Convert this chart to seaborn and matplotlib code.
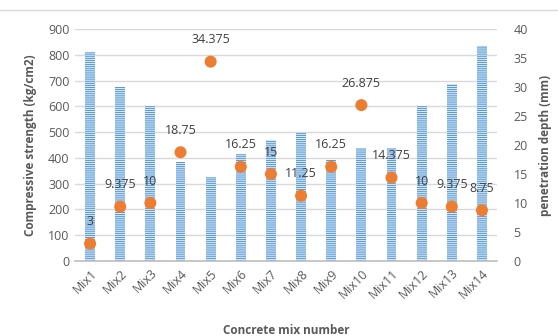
import matplotlib
matplotlib.use("Agg")
import matplotlib.pyplot as plt
import seaborn as sns
import pandas as pd

# Mix data: compressive strength (bars, left axis) and penetration depth (dots, right axis)
mixes = ["Mix1", "Mix2", "Mix3", "Mix4", "Mix5", "Mix6", "Mix7",
         "Mix8", "Mix9", "Mix10", "Mix11", "Mix12", "Mix13", "Mix14"]
strength = [810, 675, 600, 385, 325, 415, 470, 495, 390, 440, 440, 600, 685, 835]
penetration = [3, 9.375, 10, 18.75, 34.375, 16.25, 15, 11.25, 16.25, 26.875,
               14.375, 10, 9.375, 8.75]
left_ticks = list(range(0, 1000, 100))
right_ticks = list(range(0, 45, 5))

df = pd.DataFrame({"mix": mixes, "strength": strength, "penetration": penetration})

sns.set_theme(style="white")
plt.rcParams["font.family"] = ["Open Sans", "DejaVu Sans"]
plt.rcParams["hatch.linewidth"] = 0.7

text_gray = "#595959"
blue = "#5B9BD5"
orange = "#ED7D31"

fig = plt.figure(figsize=(5.58, 3.36), dpi=100)
ax = fig.add_axes([75 / 558, 1 - 261 / 336, (497 - 75) / 558, (261 - 29) / 336])

sns.barplot(data=df, x="mix", y="strength", ax=ax, color=blue, saturation=1,
            width=0.33, hatch="--------", edgecolor="#E3EEF9", linewidth=0,
            zorder=2)
ax.set_ylim(0, 900)
ax.set_yticks(left_ticks)
ax.set_xlim(-0.5, len(mixes) - 0.5)
ax.grid(axis="y", color="#D9D9D9", linewidth=1, zorder=0)
ax.set_axisbelow(True)
for s in ["top", "right", "left"]:
    ax.spines[s].set_visible(False)
ax.spines["bottom"].set_color("#BFBFBF")
ax.spines["bottom"].set_linewidth(1.2)
ax.tick_params(axis="both", colors=text_gray, labelsize=9, length=0, pad=4)
plt.setp(ax.get_xticklabels(), rotation=45, ha="right", rotation_mode="anchor")
ax.set_xlabel("Concrete mix number", fontsize=8.5, fontweight="bold",
              color=text_gray, labelpad=17)
ax.set_ylabel("Compressive strength (kg/cm2)", fontsize=8.5, fontweight="bold",
              color=text_gray, labelpad=8)

ax2 = ax.twinx()
sns.scatterplot(data=df, x="mix", y="penetration", ax=ax2, color=orange,
                s=75, edgecolor="none", zorder=3)
ax2.set_ylim(0, 40)
ax2.set_yticks(right_ticks)
for s in ["top", "right", "left", "bottom"]:
    ax2.spines[s].set_visible(False)
ax2.tick_params(axis="y", colors=text_gray, labelsize=9, length=0, pad=12)
ax2.set_ylabel("penetration depth (mm)", fontsize=8.5, fontweight="bold",
               color=text_gray, labelpad=8)

for i, v in enumerate(penetration):
    ax2.annotate(f"{v:g}", (i, v), xytext=(0, 11), textcoords="offset points",
                 ha="center", va="bottom", fontsize=9, color="#404040")

# light chart-area border line along the top
fig.add_artist(plt.Line2D([0, 1], [1 - 10 / 336, 1 - 10 / 336], color="#D9D9D9",
                          linewidth=1, transform=fig.transFigure))

fig.savefig("out.png", dpi=100)
